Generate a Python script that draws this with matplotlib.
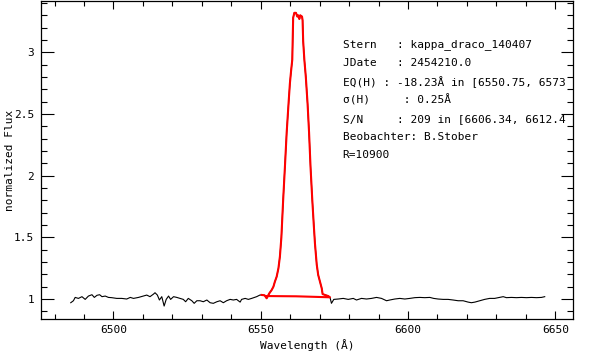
import numpy as np
import matplotlib.pyplot as plt
from matplotlib.ticker import MultipleLocator, FormatStrFormatter

# blue side continuum
blue_wave = [6485.5, 6486.4, 6487.0, 6488.1, 6489.3, 6490.4, 6491.5, 6492.7, 6493.5, 6494.4,
             6495.3, 6496.1, 6497.2, 6498.3, 6499.4, 6501.1, 6502.8, 6504.5, 6505.7, 6506.8,
             6508.5, 6510.2, 6511.3, 6512.4, 6513.6, 6514.1, 6514.9, 6515.6, 6516.4, 6517.2,
             6517.9, 6518.7, 6519.4, 6520.4, 6521.5, 6522.6, 6523.7, 6524.5, 6525.4, 6526.6,
             6527.4, 6528.3, 6529.4, 6530.5, 6531.7, 6532.8, 6533.9, 6535.1, 6536.2, 6537.3,
             6538.4, 6539.6, 6540.7, 6541.8, 6543.0, 6543.5, 6544.7, 6545.8, 6546.9, 6548.6,
             6549.7]
blue_flux = [0.970, 0.986, 1.013, 1.005, 1.019, 0.997, 1.024, 1.035, 1.013, 1.030,
             1.035, 1.019, 1.024, 1.013, 1.011, 1.005, 1.005, 1.000, 1.013, 1.005,
             1.013, 1.024, 1.032, 1.019, 1.040, 1.051, 1.032, 0.992, 1.019, 0.943,
             0.997, 1.024, 0.997, 1.019, 1.013, 1.005, 0.997, 0.978, 1.005, 0.986,
             0.965, 0.986, 0.986, 0.978, 0.992, 0.970, 0.965, 0.978, 0.986, 0.970,
             0.986, 0.997, 0.992, 0.997, 0.975, 0.997, 1.005, 0.997, 1.005, 1.019,
             1.032]

# H-alpha emission profile
line_wave = [6550.3, 6551.3, 6552.0, 6552.9, 6553.7, 6554.3, 6554.8, 6555.4, 6556.0, 6556.5,
             6557.0, 6557.6, 6558.2, 6558.8, 6559.5, 6559.9, 6560.3, 6560.7, 6561.0, 6561.4,
             6561.95, 6562.4, 6562.7, 6563.1, 6563.4, 6564.0, 6564.2, 6564.4, 6564.8, 6565.3,
             6565.9, 6566.4, 6566.9, 6567.5, 6568.0, 6568.4, 6569.0, 6569.5, 6570.1, 6570.7,
             6571.0, 6571.8, 6572.9, 6573.5]
line_flux = [1.033, 1.030, 1.006, 1.046, 1.073, 1.100, 1.141, 1.181, 1.249, 1.344,
             1.500, 1.800, 2.070, 2.350, 2.610, 2.750, 2.850, 2.940, 3.280, 3.320,
             3.320, 3.290, 3.300, 3.270, 3.300, 3.290, 3.260, 3.090, 2.940, 2.800,
             2.580, 2.350, 2.070, 1.800, 1.600, 1.450, 1.280, 1.195, 1.141, 1.087,
             1.040, 1.033, 1.024, 1.014]

# red side continuum
red_wave = [6574.0, 6574.8, 6576.3, 6578.0, 6579.7, 6581.4, 6582.5, 6584.2, 6585.9, 6587.6,
            6589.3, 6591.0, 6592.7, 6593.8, 6595.5, 6597.2, 6598.9, 6600.6, 6602.3, 6604.0,
            6605.7, 6607.4, 6608.7, 6610.2, 6611.9, 6613.6, 6615.3, 6617.0, 6618.7, 6620.4,
            6621.5, 6622.7, 6624.3, 6626.0, 6627.7, 6629.4, 6631.1, 6632.3, 6633.4, 6635.1,
            6636.8, 6638.5, 6640.2, 6641.9, 6643.6, 6645.3, 6646.4]
red_flux = [0.965, 0.997, 1.000, 1.005, 0.997, 1.005, 0.992, 1.005, 1.000, 1.005,
            1.013, 1.005, 0.986, 0.992, 1.000, 1.005, 1.000, 1.005, 1.011, 1.013,
            1.011, 1.013, 1.005, 1.000, 0.997, 0.997, 0.992, 0.986, 0.986, 0.975,
            0.970, 0.975, 0.986, 0.997, 1.005, 1.005, 1.013, 1.019, 1.011, 1.013,
            1.011, 1.013, 1.011, 1.013, 1.011, 1.013, 1.019]

# continuum under the line used for EQ width
cont_wave = [6573.5, 6562.0, 6552.0]
cont_flux = [1.014, 1.022, 1.024]

info = ['Stern   : kappa_draco_140407',
        'JDate   : 2454210.0',
        'EQ(H) : -18.23Å in [6550.75, 6573',
        'σ(H)     : 0.25Å',
        'S/N     : 209 in [6606.34, 6612.4',
        'Beobachter: B.Stober',
        'R=10900']

plt.rcParams['font.family'] = ['DejaVu Sans Mono', 'DejaVu Sans']
plt.rcParams['font.size'] = 8

W, H = 608, 351
fig = plt.figure(figsize=(W / 100, H / 100), dpi=100)
ax = fig.add_axes([41.3 / W, 32 / H, (573 - 41.3) / W, 318 / H])

wave = np.concatenate([blue_wave, line_wave, red_wave])
flux = np.concatenate([blue_flux, line_flux, red_flux])
ax.plot(wave, flux, color='black', lw=0.8)
ax.plot(np.concatenate([line_wave, cont_wave]),
        np.concatenate([line_flux, cont_flux]),
        color='red', lw=1.5)

ax.set_xlim(6475.5, 6656)
ax.set_ylim(0.838, 3.416)
ax.xaxis.set_major_locator(MultipleLocator(50))
ax.xaxis.set_minor_locator(MultipleLocator(10))
ax.yaxis.set_major_locator(MultipleLocator(0.5))
ax.yaxis.set_minor_locator(MultipleLocator(0.1))
ax.yaxis.set_major_formatter(FormatStrFormatter('%g'))
ax.tick_params(axis='both', which='both', direction='in', top=True, right=True,
               width=0.8, colors='black', labelsize=8)
ax.tick_params(axis='x', which='major', length=5.5, pad=4.5)
ax.tick_params(axis='x', which='minor', length=3.3)
ax.tick_params(axis='y', which='major', length=9, pad=5)
ax.tick_params(axis='y', which='minor', length=4)
for s in ax.spines.values():
    s.set_linewidth(0.9)

ax.set_xlabel('Wavelength (Å)')
ax.xaxis.set_label_coords(0.5, -0.063)
ax.set_ylabel('normalized Flux', va='center')
ax.yaxis.set_label_coords(-0.059, 0.5)

for i, line in enumerate(info):
    fig.text(342.7 / W, 1 - (45 + 18.4 * i) / H, line, va='center', ha='left', fontsize=8)

fig.savefig('out.png', dpi=100)
